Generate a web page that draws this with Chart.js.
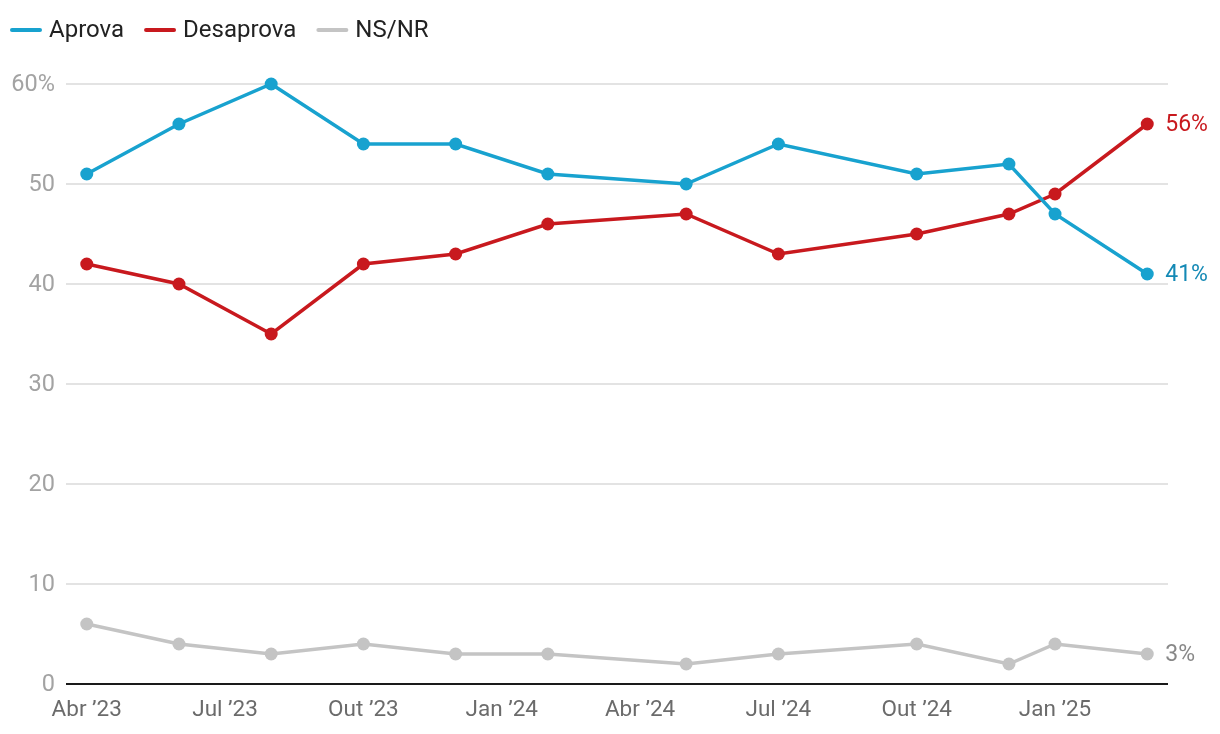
<!DOCTYPE html>
<html>
<head>
<meta charset="utf-8">
<script src="https://cdn.jsdelivr.net/npm/chart.js@4/dist/chart.umd.min.js"></script>
<style>
  html, body { margin: 0; padding: 0; background: #fff; }
  #wrap { width: 1220px; height: 734px; position: relative; }
</style>
</head>
<body>
<div id="wrap"><canvas id="myChart"></canvas></div>
<script>
// months counted from Apr 2023 (0)
const MONTHS = [0, 2, 4, 6, 8, 10, 13, 15, 18, 20, 21, 23];
const APROVA = [51, 56, 60, 54, 54, 51, 50, 54, 51, 52, 47, 41];
const DESAPROVA = [42, 40, 35, 42, 43, 46, 47, 43, 45, 47, 49, 56];
const NSNR = [6, 4, 3, 4, 3, 3, 2, 3, 4, 2, 4, 3];

const TICK_MONTHS = [0, 3, 6, 9, 12, 15, 18, 21];
const TICK_LABELS = ['Abr ’23', 'Jul ’23', 'Out ’23', 'Jan ’24', 'Abr ’24', 'Jul ’24', 'Out ’24', 'Jan ’25'];

const SERIES = ['Aprova', 'Desaprova', 'NS/NR'];
const COLORS = ['#18a2cf', '#c8191e', '#c4c4c4'];
const LABEL_COLORS = ['#1489b5', '#c8191e', '#888888'];
const FONT = 'Roboto, "Noto Sans", sans-serif';

const pts = arr => arr.map((v, i) => ({x: MONTHS[i], y: v}));

function makeSet(label, values, i) {
    return {
        label: label,
        data: pts(values),
        borderColor: COLORS[i],
        backgroundColor: COLORS[i],
        pointBackgroundColor: COLORS[i],
        borderWidth: 3.5,
        pointRadius: 6.5,
        pointHoverRadius: 6.5,
        pointBorderWidth: 0,
        borderCapStyle: 'round',
        tension: 0,
        clip: false
    };
}

// legend drawn top-left
const legendPlugin = {
    id: 'topLegend',
    afterDraw(c) {
        const ctx = c.ctx;
        ctx.save();
        ctx.font = '24px ' + FONT;
        ctx.textBaseline = 'middle';
        let x = 12;
        const y = 30;
        c.data.datasets.forEach((ds, i) => {
            ctx.strokeStyle = ds.borderColor;
            ctx.lineWidth = 4;
            ctx.lineCap = 'round';
            ctx.beginPath();
            ctx.moveTo(x, y);
            ctx.lineTo(x + 28, y);
            ctx.stroke();
            ctx.fillStyle = '#222';
            ctx.fillText(ds.label, x + 37, y + 1);
            x += 37 + ctx.measureText(ds.label).width + 22;
        });
        ctx.restore();
    }
};

// last-value labels on the right
const endLabels = {
    id: 'endLabels',
    afterDatasetsDraw(c) {
        const ctx = c.ctx;
        ctx.save();
        ctx.font = '23px ' + FONT;
        ctx.textBaseline = 'middle';
        c.data.datasets.forEach((ds, i) => {
            const meta = c.getDatasetMeta(i);
            const p = meta.data[meta.data.length - 1];
            const v = ds.data[ds.data.length - 1].y;
            ctx.fillStyle = LABEL_COLORS[i];
            ctx.fillText(v + '%', p.x + 18, p.y + 1);
        });
        ctx.restore();
    }
};

// black baseline at zero
const baseline = {
    id: 'baseline',
    beforeDatasetsDraw(c) {
        const ctx = c.ctx;
        const y = c.scales.y.getPixelForValue(0);
        ctx.save();
        ctx.strokeStyle = '#1a1a1a';
        ctx.lineWidth = 2;
        ctx.beginPath();
        ctx.moveTo(c.chartArea.left, y);
        ctx.lineTo(c.chartArea.right, y);
        ctx.stroke();
        ctx.restore();
    }
};

const ctx = document.getElementById('myChart').getContext('2d');
const chart = new Chart(ctx, {
    type: 'line',
    data: {
        datasets: [
            makeSet(SERIES[0], APROVA, 0),
            makeSet(SERIES[1], DESAPROVA, 1),
            makeSet(SERIES[2], NSNR, 2)
        ]
    },
    options: {
        responsive: true,
        maintainAspectRatio: false,
        animation: false,
        layout: { padding: { top: 84, right: 52, left: 0, bottom: 0 } },
        plugins: { legend: { display: false }, tooltip: { enabled: false } },
        scales: {
            x: {
                type: 'linear',
                min: -0.45,
                max: 23.45,
                grid: { display: false, drawTicks: false },
                border: { display: false },
                afterBuildTicks(s) { s.ticks = TICK_MONTHS.map(v => ({value: v})); },
                afterFit(s) { s.height = 50; },
                ticks: {
                    autoSkip: false,
                    maxRotation: 0,
                    padding: 13,
                    color: '#6b6b6b',
                    font: { size: 22.5, family: FONT },
                    callback: (v) => TICK_LABELS[TICK_MONTHS.indexOf(v)]
                }
            },
            y: {
                min: 0,
                max: 60,
                grid: { color: '#e3e3e3', lineWidth: 2, drawTicks: false },
                border: { display: false },
                afterFit(s) { s.width = 66; },
                ticks: {
                    stepSize: 10,
                    padding: 11,
                    labelOffset: 1.5,
                    color: '#a3a3a3',
                    font: { size: 23.5, family: FONT },
                    callback: (v) => v === 60 ? '60%' : String(v)
                }
            }
        }
    },
    plugins: [baseline, endLabels, legendPlugin]
});
</script>
</body>
</html>
